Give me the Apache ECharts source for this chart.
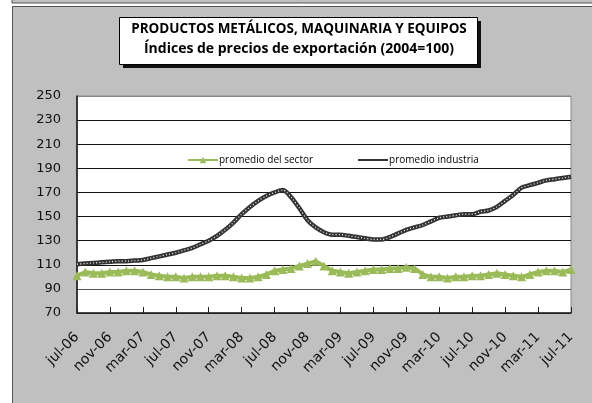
<!DOCTYPE html>
<html>
<head>
<meta charset="utf-8">
<script src="https://cdn.jsdelivr.net/npm/echarts@6/dist/echarts.min.js"></script>
<style>
  html, body { margin: 0; padding: 0; background: #fff; }
  #chart { width: 592px; height: 403px; }
</style>
</head>
<body>
<div id="chart"></div>
<script>
  // meses jul-06 .. jul-11
  const months = [
    'jul-06', 'ago-06', 'sep-06', 'oct-06', 'nov-06', 'dic-06',
    'ene-07', 'feb-07', 'mar-07', 'abr-07', 'may-07', 'jun-07', 'jul-07', 'ago-07', 'sep-07', 'oct-07', 'nov-07', 'dic-07',
    'ene-08', 'feb-08', 'mar-08', 'abr-08', 'may-08', 'jun-08', 'jul-08', 'ago-08', 'sep-08', 'oct-08', 'nov-08', 'dic-08',
    'ene-09', 'feb-09', 'mar-09', 'abr-09', 'may-09', 'jun-09', 'jul-09', 'ago-09', 'sep-09', 'oct-09', 'nov-09', 'dic-09',
    'ene-10', 'feb-10', 'mar-10', 'abr-10', 'may-10', 'jun-10', 'jul-10', 'ago-10', 'sep-10', 'oct-10', 'nov-10', 'dic-10',
    'ene-11', 'feb-11', 'mar-11', 'abr-11', 'may-11', 'jun-11', 'jul-11'
  ]

  const sector = [
    101, 104, 103, 103, 104, 104, 105, 105, 104, 102,
    101, 100, 100, 99, 100, 100, 100, 101, 101, 100,
    99, 99, 100, 102, 105, 106, 107, 109, 111, 113,
    109, 105, 104, 103, 104, 105, 106, 106, 107, 107,
    108, 107, 102, 100, 100, 99, 100, 100, 101, 101,
    102, 103, 102, 101, 100, 102, 104, 105, 105, 104,
    106
  ]

  const industria = [
    110.5, 111, 111.5, 112, 112.5, 113, 113, 113.5, 114, 115.5,
    117, 118.5, 120, 122, 124, 127, 130, 134, 139, 145,
    152, 158, 163, 167, 170, 172, 166, 157, 147, 141,
    137, 135, 135, 134, 133, 132, 131, 131, 133, 136,
    139, 141, 143, 146, 149, 150, 151, 152, 152, 154,
    155, 158, 163, 168, 174, 176, 178, 180, 181, 182,
    183
  ]

  const yTicks = { min: 70, max: 250, step: 20 }

  const titleText = 'PRODUCTOS METÁLICOS, MAQUINARIA Y EQUIPOS'
  const subText = 'Índices de precios de exportación (2004=100)'

  const chart = echarts.init(document.getElementById('chart'))

  // 250 es el borde del área, las demás líneas negras
  let splitColors = []
  for (let v = yTicks.min; v <= yTicks.max; v += yTicks.step) {
    splitColors.push(v === yTicks.max ? '#888' : (v === 90 ? '#555' : '#111'))
  }

  chart.setOption({
    animation: false,
    backgroundColor: '#fff',
    textStyle: { fontFamily: 'Open Sans' },
    graphic: [
      { type: 'rect', z: -10, shape: { x: 12, y: -10, width: 620, height: 13 }, style: { fill: '#c0c0c0', stroke: '#555', lineWidth: 1 } },
      { type: 'rect', z: -10, shape: { x: 12.5, y: 6.5, width: 620, height: 420 }, style: { fill: '#c0c0c0', stroke: '#555', lineWidth: 1 } },
      // caja del título con sombra
      { type: 'rect', z: 5, shape: { x: 123, y: 21, width: 358, height: 47 }, style: { fill: '#111' } },
      { type: 'rect', z: 6, shape: { x: 119.5, y: 17.5, width: 358, height: 47 }, style: { fill: '#fff', stroke: '#000', lineWidth: 1 } },
      { type: 'text', z: 7, x: 299, y: 22, style: { text: titleText, font: 'bold 13.5px "Open Sans"', fill: '#000', align: 'center' } },
      { type: 'text', z: 7, x: 299, y: 42, style: { text: subText, font: 'bold 14px "Open Sans"', fill: '#000', align: 'center' } }
    ],
    legend: {
      top: 150,
      left: 182,
      itemGap: 44,
      itemWidth: 30,
      itemHeight: 8,
      data: [
        { name: 'promedio del sector' },
        { name: 'promedio industria', itemStyle: { opacity: 0 } }
      ],
      textStyle: { fontSize: 10, color: '#000', fontFamily: 'Open Sans', padding: [0, 0, 0, -4] }
    },
    grid: {
      left: 77,
      right: 21,
      top: 96,
      bottom: 90,
      show: true,
      backgroundColor: '#fff',
      borderColor: '#888',
      borderWidth: 1
    },
    xAxis: {
      type: 'category',
      data: months,
      boundaryGap: false,
      axisLine: { lineStyle: { color: '#222', width: 1.5 } },
      axisTick: { inside: true, length: 6, interval: 3, lineStyle: { color: '#222' } },
      axisLabel: {
        interval: 3,
        rotate: 45,
        margin: 22,
        fontSize: 14,
        color: '#111',
        fontFamily: 'DejaVu Sans'
      },
      splitLine: { show: false }
    },
    yAxis: {
      type: 'value',
      min: yTicks.min,
      max: yTicks.max,
      interval: yTicks.step,
      axisLine: { show: true, lineStyle: { color: '#111', width: 1.5 } },
      axisTick: { show: false },
      axisLabel: { fontSize: 13, color: '#111', margin: 16, fontFamily: 'DejaVu Sans' },
      splitLine: { show: true, lineStyle: { color: splitColors, width: 1 } }
    },
    series: [
      {
        name: 'promedio industria',
        type: 'line',
        data: industria,
        symbol: 'none',
        smooth: 0.3,
        z: 3,
        lineStyle: { color: '#333', width: 4.5 },
        itemStyle: { color: '#333' }
      },
      {
        name: 'industria_puntos',
        type: 'line',
        data: industria,
        symbol: 'none',
        smooth: 0.3,
        z: 4,
        silent: true,
        lineStyle: { color: '#fff', width: 1.2, type: [1, 2.2] }
      },
      {
        name: 'promedio del sector',
        type: 'line',
        data: sector,
        symbol: 'triangle',
        symbolSize: 9,
        showAllSymbol: true,
        z: 5,
        lineStyle: { color: '#9bbb59', width: 4 },
        itemStyle: { color: '#9bbb59' }
      }
    ]
  })
</script>
</body>
</html>
